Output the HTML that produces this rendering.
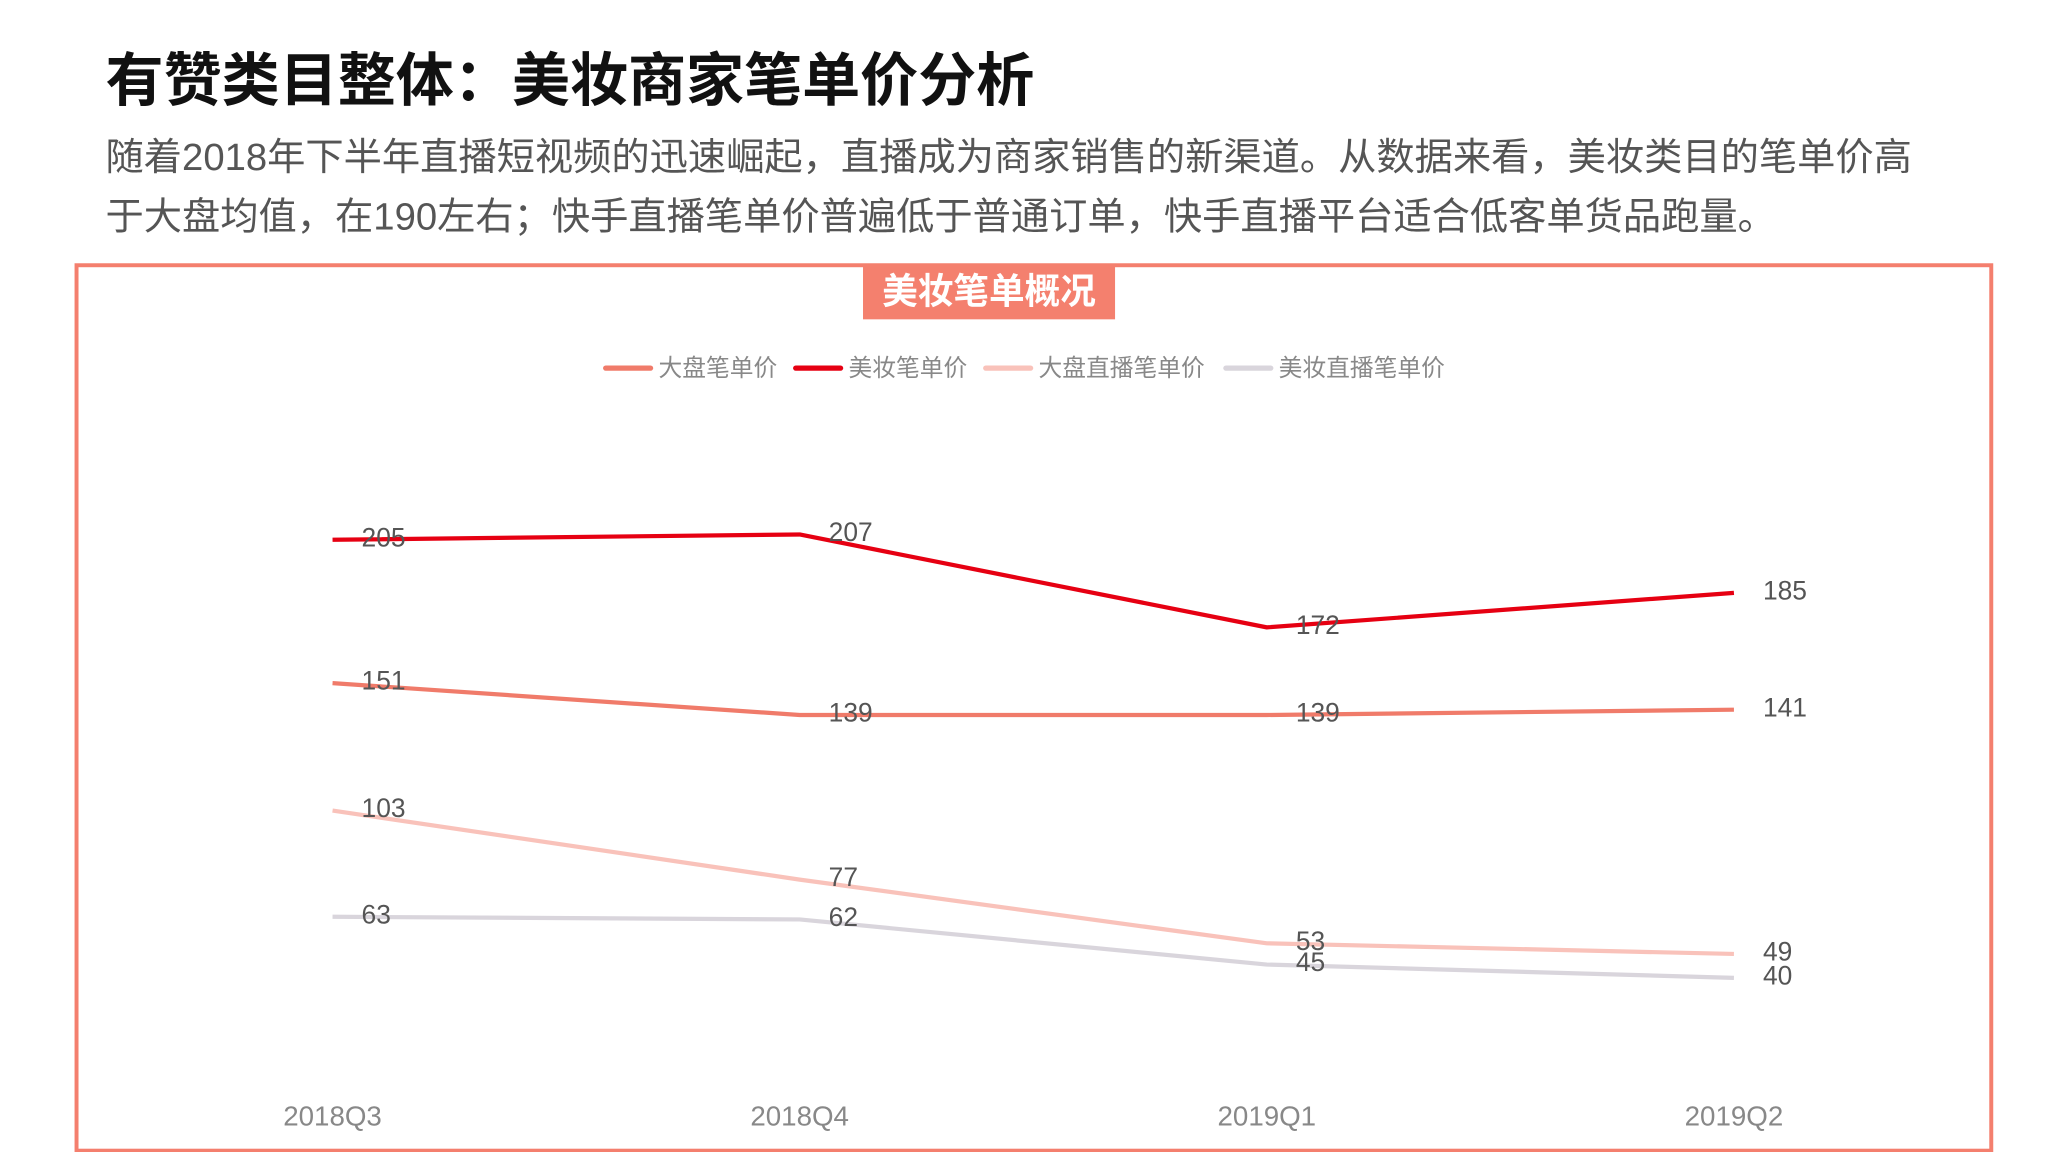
<!DOCTYPE html>
<html><head><meta charset="utf-8"><style>
html,body{margin:0;padding:0;background:#fff;width:2048px;height:1152px;overflow:hidden}
svg{display:block}
text{font-family:"Liberation Sans","Noto Sans CJK SC",sans-serif}
</style></head><body>
<svg id="page" width="2048" height="1152" viewBox="0 0 1552 873" xmlns="http://www.w3.org/2000/svg">
<text x="80" y="76" font-size="44" font-weight="bold" fill="#111">有赞类目整体：美妆商家笔单价分析</text>
<text x="80" y="129" font-size="29" fill="#555">随着2018年下半年直播短视频的迅速崛起，直播成为商家销售的新渠道。从数据来看，美妆类目的笔单价高</text>
<text x="80" y="174" font-size="29" fill="#555">于大盘均值，在190左右；快手直播笔单价普遍低于普通订单，快手直播平台适合低客单货品跑量。</text>
<rect x="58" y="201" width="1451" height="671" fill="none" stroke="#f47f6e" stroke-width="3"/>
<rect x="654" y="200" width="191" height="42" fill="#f4806e"/>
<text x="749.5" y="230" font-size="27" font-weight="bold" fill="#fff" text-anchor="middle">美妆笔单概况</text>
<g id="legend"></g>
<g id="xaxis"></g>
<g id="series"></g>
</svg>
<script>
const categories = ["2018Q3","2018Q4","2019Q1","2019Q2"];
const seriesNames = ["大盘笔单价","美妆笔单价","大盘直播笔单价","美妆直播笔单价"];
const dapan = [151,139,139,141];
const meizhuang = [205,207,172,185];
const dapanLive = [103,77,53,49];
const meizhuangLive = [63,62,45,40];
const seriesValues = [dapan, meizhuang, dapanLive, meizhuangLive];
const colors = ["#f07b6a","#e60012","#f9c2ba","#d9d5dc"];
const slugs = ["dapan","meizhuang","dapan-live","meizhuang-live"];
const NS = "http://www.w3.org/2000/svg";
function xPos(i){ return 252 + i*(1314-252)/(categories.length-1); }
function yPos(v){ return 821.5 - v*2.012; }
function mk(tag, attrs, parent){ const e=document.createElementNS(NS,tag); for(const k in attrs) e.setAttribute(k,attrs[k]); parent.appendChild(e); return e; }
const xa=document.getElementById('xaxis');
categories.forEach((c,i)=>{
  const t=mk('text',{x:xPos(i),y:853,'font-size':21,fill:'#888','text-anchor':'middle'},xa);
  
  
  t.textContent=c;
});
const lg=document.getElementById('legend');
const legX=[459,603,747,929];
seriesNames.forEach((n,s)=>{
  const g=mk('g',{},lg);
  
  
  mk('line',{x1:legX[s],x2:legX[s]+34,y1:279,y2:279,stroke:colors[s],'stroke-width':4,'stroke-linecap':'round'},g);
  const t=mk('text',{x:legX[s]+40,y:285,'font-size':18,fill:'#888'},g);
  t.textContent=n;
});
const sg=document.getElementById('series');
seriesValues.forEach((vals,s)=>{
  const pts=vals.map((v,i)=>xPos(i)+','+yPos(v)).join(' ');
  const pl=mk('polyline',{points:pts,fill:'none',stroke:colors[s],'stroke-width':3.2,'stroke-linejoin':'round'},sg);
  
  
});
seriesValues.forEach((vals,s)=>{
  vals.forEach((v,i)=>{
    const t=mk('text',{x:xPos(i)+22,y:yPos(v)+5,'font-size':20,fill:'#555'},sg);
    
    
    t.textContent=v;
  });
});
</script>
</body></html>
